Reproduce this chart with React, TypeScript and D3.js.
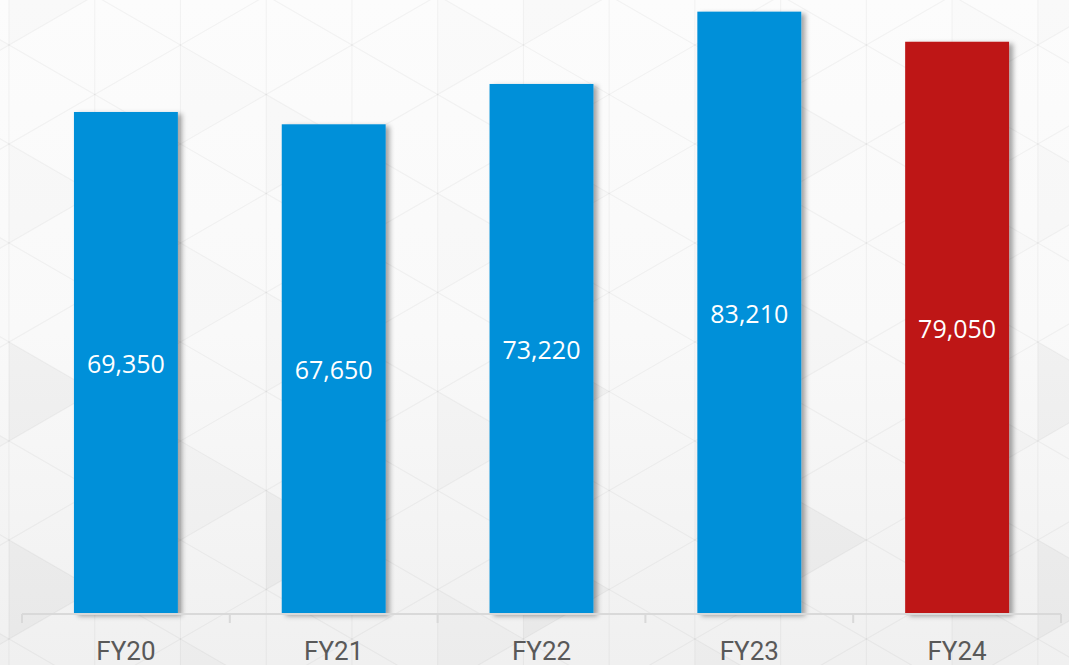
import React from "react";
import * as d3 from "d3";

const years = ["FY20", "FY21", "FY22", "FY23", "FY24"];
const revenue = [69350, 67650, 73220, 83210, 79050];
const barColors = ["#0090d9", "#0090d9", "#0090d9", "#0090d9", "#be1818"];

const W = 1069;
const H = 665;
const base = 614;

// faint triangle mesh behind the chart
function Backdrop() {
  const side = 99;
  const colW = side * Math.sqrt(3) / 2;
  const cols = d3.range(-2, Math.ceil(W / colW) + 2);
  const rows = d3.range(-2, Math.ceil(H / side) + 3);
  const x0 = 9;
  const y0 = 45;
  const tris: JSX.Element[] = [];
  cols.forEach((c) => {
    rows.forEach((r) => {
      const x = x0 + c * colW;
      const off = (c % 2 === 0 ? 0 : side / 2);
      const y = y0 + r * side + off;
      const shade = ((c * 7 + r * 3 + 100) % 6);
      if (shade < 2) {
        const g = y > 300 ? 0.03 : 0.012;
        tris.push(
          <path key={`t${c}-${r}`}
            d={`M${x},${y}L${x + colW},${y + side / 2}L${x},${y + side}Z`}
            fill="#000" opacity={g * (shade + 1) / 2} />
        );
      }
    });
  });
  const lines: JSX.Element[] = [];
  cols.forEach((c) => {
    const x = x0 + c * colW;
    lines.push(<line key={`v${c}`} x1={x} x2={x} y1={0} y2={H} />);
  });
  const slope = Math.tan(Math.PI / 6);
  d3.range(-20, 25).forEach((k) => {
    const b = y0 + k * side;
    lines.push(<line key={`a${k}`} x1={x0 - 200} y1={b - 200 * slope} x2={W + 200} y2={b + (W + 200 - x0) * slope} />);
    lines.push(<line key={`b${k}`} x1={x0 - 200} y1={b + 200 * slope} x2={W + 200} y2={b - (W + 200 - x0) * slope} />);
  });
  return (
    <g>
      <rect width={W} height={H} fill="url(#bgGrad)" />
      {tris}
      <g stroke="#000" strokeOpacity={0.04} strokeWidth={1.2}>{lines}</g>
    </g>
  );
}

export default function App() {
  const x = d3.scaleBand().domain(years).range([22, 1061]).paddingInner(0.5).paddingOuter(0.25);
  const y = d3.scaleLinear().domain([0, 84820]).range([base, 0]);
  const fmt = d3.format(",");
  const ticks = d3.range(years.length + 1).map((i) => 22 + i * (1039 / years.length));

  return (
    <svg width={W} height={H} style={{ position: "absolute", left: 0, top: 0, display: "block" }}>
      <defs>
        <linearGradient id="bgGrad" x1="0" y1="0" x2="0" y2="1">
          <stop offset="0" stopColor="#fcfcfc" />
          <stop offset="0.5" stopColor="#f9f9f9" />
          <stop offset="1" stopColor="#f0f0f0" />
        </linearGradient>
        <filter id="shadow" x="-20%" y="-10%" width="140%" height="120%">
          <feDropShadow dx={4} dy={2} stdDeviation={2.5} floodColor="#000" floodOpacity={0.35} />
        </filter>
      </defs>
      <Backdrop />
      <g>
        {years.map((yr, i) => (
          <rect key={yr} x={x(yr)} y={y(revenue[i])} width={x.bandwidth()}
            height={base - y(revenue[i])} fill={barColors[i]} filter="url(#shadow)" />
        ))}
      </g>
      <g stroke="#d9d9d9" strokeWidth={2} fill="none">
        <line x1={22} x2={1061} y1={base} y2={base} />
        {ticks.map((t, i) => (
          <line key={i} x1={t} x2={t} y1={base} y2={base + 9} />
        ))}
      </g>
      <g fontFamily="'Open Sans', sans-serif" fontSize={25} fill="#fff" textAnchor="middle">
        {years.map((yr, i) => (
          <text key={yr} x={(x(yr) as number) + x.bandwidth() / 2}
            y={(y(revenue[i]) + base) / 2} dominantBaseline="central">
            {fmt(revenue[i])}
          </text>
        ))}
      </g>
      <g fontFamily="Roboto, sans-serif" fontSize={26} fill="#595959" textAnchor="middle">
        {years.map((yr) => (
          <text key={yr} x={(x(yr) as number) + x.bandwidth() / 2} y={660}>{yr}</text>
        ))}
      </g>
    </svg>
  );
}
